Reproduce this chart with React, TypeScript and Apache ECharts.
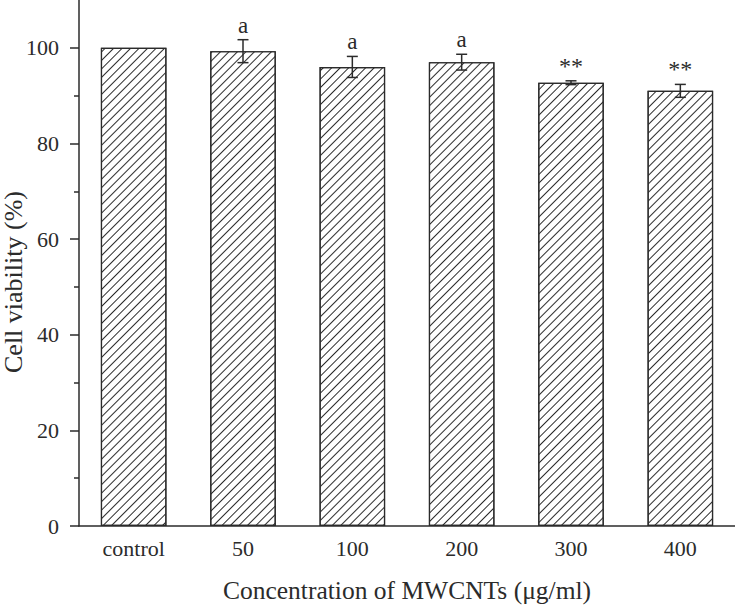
import React, { useEffect, useRef } from "react";
import * as echarts from "echarts";

const categories = ["control", "50", "100", "200", "300", "400"];
const viability = [100, 99.3, 96.0, 97.0, 92.7, 91.0];
const errors = [0, 2.4, 2.2, 1.65, 0.4, 1.35];
const marks = ["", "a", "a", "a", "**", "**"];
const yTicks = [0, 20, 40, 60, 80, 100];
const yMinorTicks = [10, 30, 50, 70, 90];
const xTitle = "Concentration of MWCNTs (\u03bcg/ml)";
const yTitle = "Cell viability (%)";

const FONT = "'Liberation Serif', 'Times New Roman', serif";
const INK = "#2b2b2b";

export default function App() {
  const ref = useRef<HTMLDivElement>(null);
  useEffect(() => {
    if (!ref.current) return;
    const chart = echarts.init(ref.current, undefined, { renderer: "svg" });
    const errData = categories.map((c, i) => [i, viability[i], errors[i], marks[i]]);
    chart.setOption({
      animation: false,
      backgroundColor: "#ffffff",
      aria: { enabled: true, decal: { show: true } },
      grid: { left: 79, right: 0, top: 0, bottom: 80, containLabel: false },
      xAxis: {
        type: "category",
        data: categories,
        axisLine: { show: true, lineStyle: { color: INK, width: 1.5 } },
        axisTick: { show: false },
        axisLabel: { color: INK, fontFamily: FONT, fontSize: 22, margin: 11 },
        name: xTitle,
        nameLocation: "middle",
        nameGap: 51,
        nameTextStyle: { color: INK, fontFamily: FONT, fontSize: 25.5 },
        splitLine: { show: false },
      },
      yAxis: [
        {
          type: "value",
          min: 0,
          max: 110,
          interval: 20,
          axisLine: { show: true, lineStyle: { color: INK, width: 1.5 } },
          axisTick: { show: true, length: 9, customValues: yTicks, lineStyle: { color: INK, width: 1.5 } },
          axisLabel: { customValues: yTicks, color: INK, fontFamily: FONT, fontSize: 22, margin: 20 },
          splitLine: { show: false },
        },
        {
          type: "value",
          min: 0,
          max: 110,
          interval: 20,
          position: "left",
          axisLine: { show: false },
          axisTick: { show: true, length: 5, customValues: yMinorTicks, lineStyle: { color: INK, width: 1.5 } },
          axisLabel: { show: false },
          splitLine: { show: false },
        },
      ],
      graphic: [
        {
          type: "text",
          x: 13,
          y: 282,
          rotation: Math.PI / 2,
          style: {
            text: yTitle,
            fill: INK,
            font: `26px ${FONT}`,
            align: "center",
            verticalAlign: "middle",
          },
        },
      ],
      series: [
        {
          type: "bar",
          yAxisIndex: 0,
          data: viability,
          barWidth: "60%",
          itemStyle: {
            color: "#ffffff",
            borderColor: INK,
            borderWidth: 1.2,
            decal: {
              symbol: "rect",
              symbolSize: 1,
              color: INK,
              backgroundColor: "#ffffff",
              dashArrayX: [1, 0],
              dashArrayY: [1, 5],
              rotation: -Math.PI / 4,
            },
          },
          emphasis: { disabled: true },
        },
        {
          type: "custom",
          yAxisIndex: 0,
          data: errData,
          encode: { x: 0, y: 1 },
          z: 5,
          renderItem: (params: any, api: any) => {
            const idx = api.value(0);
            const v = api.value(1);
            const e = api.value(2);
            const mark = marks[params.dataIndex];
            const children: any[] = [];
            const top = api.coord([idx, v + e]);
            const bot = api.coord([idx, v - e]);
            const cx = top[0];
            const half = 5.5;
            const ls = { stroke: INK, lineWidth: 1.5 };
            if (e > 0) {
              children.push({ type: "line", shape: { x1: cx, y1: top[1], x2: cx, y2: bot[1] }, style: ls });
              children.push({ type: "line", shape: { x1: cx - half, y1: top[1], x2: cx + half, y2: top[1] }, style: ls });
              children.push({ type: "line", shape: { x1: cx - half, y1: bot[1], x2: cx + half, y2: bot[1] }, style: ls });
            }
            if (mark) {
              const isStar = mark.indexOf("*") >= 0;
              children.push({
                type: "text",
                x: cx,
                y: top[1] - (isStar ? 3 : 3),
                style: {
                  text: mark,
                  fill: INK,
                  font: `${isStar ? 24 : 23}px ${FONT}`,
                  align: "center",
                  verticalAlign: "bottom",
                },
              });
            }
            return { type: "group", children };
          },
        },
      ],
    });
    return () => chart.dispose();
  }, []);
  return <div ref={ref} style={{ width: 735, height: 608, position: "absolute", left: 0, top: 0 }} />;
}
